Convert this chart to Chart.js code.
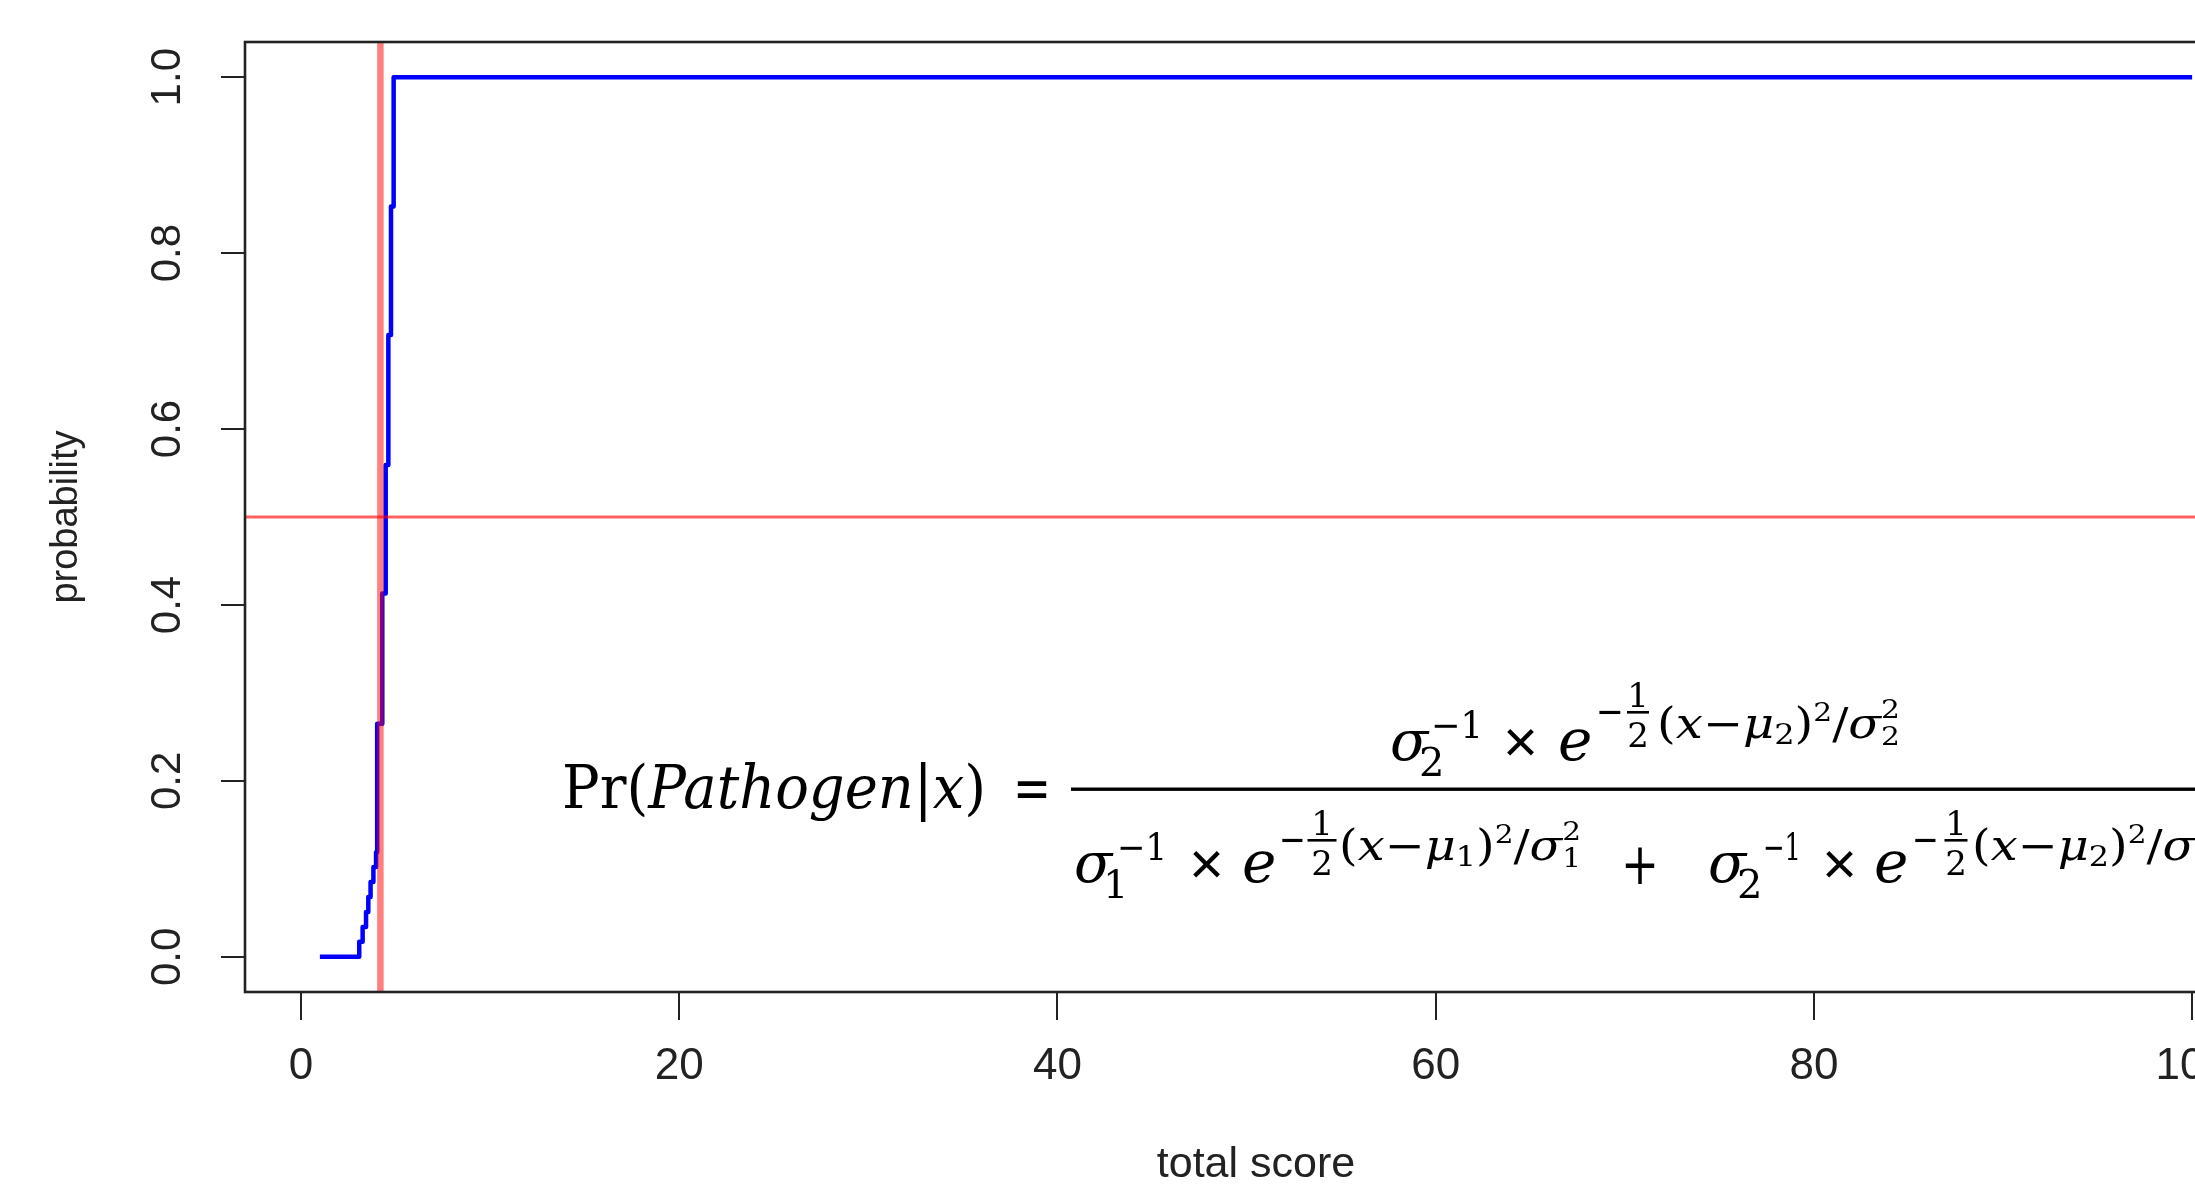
<!DOCTYPE html>
<html>
<head>
<meta charset="utf-8">
<script src="https://cdn.jsdelivr.net/npm/chart.js@4.4.0/dist/chart.umd.min.js"></script>
<style>
  html, body { margin: 0; padding: 0; background: #fff; overflow: hidden; }
  #frame { position: relative; width: 2195px; height: 1187px; overflow: hidden; }
  #wrap { position: absolute; left: 0; top: 0; width: 2300px; height: 1187px; }
</style>
</head>
<body>
<div id="frame"><div id="wrap"><canvas id="probChart"></canvas></div></div>
<script>
// data
const scoreX = [1, 3.08, 3.26, 3.44, 3.56, 3.68, 3.83, 3.97, 4.03, 4.3, 4.48, 4.62, 4.76, 4.9, 100];
const probY  = [0, 0.017, 0.034, 0.051, 0.068, 0.085, 0.102, 0.119, 0.265, 0.413, 0.559, 0.707, 0.853, 1.0, 1.0];
const xTicks = [0, 20, 40, 60, 80, 100];
const yTicks = [0, 0.2, 0.4, 0.6, 0.8, 1.0];
const yTickLabels = ['0.0', '0.2', '0.4', '0.6', '0.8', '1.0'];
const cutoffScore = 4.2;
const cutoffProb = 0.5;
const xRange = [-2.96, 103.96];
const yRange = [-0.04, 1.04];

const SANS = '"Liberation Sans", Arial, sans-serif';
const SERIF = '"DejaVu Serif", "Liberation Serif", serif';

// ---- formula helpers (drawn as canvas text) ----
function fnt(size, it, fam) { return (it ? 'italic ' : '') + size + 'px ' + (fam || SERIF); }
function measure(ctx, r) {
  if (r.stack) return Math.max(...r.stack.map(q => measure(ctx, q)));
  ctx.font = fnt(r[1], r[2], r[4]);
  return ctx.measureText(r[0]).width;
}
function paint(ctx, r, x) {
  if (r.stack) { r.stack.forEach(q => paint(ctx, q, x)); return; }
  ctx.font = fnt(r[1], r[2], r[4]);
  ctx.fillText(r[0], x, r[3] || 0);
}
function drawGroup(ctx, runs, x0, base, target) {
  const ws = runs.map(r => measure(ctx, r));
  const total = ws.reduce((a, b) => a + b, 0);
  const sx = target ? target / total : 1;
  ctx.save();
  ctx.translate(x0, base);
  ctx.scale(sx, 1);
  let x = 0;
  runs.forEach((r, i) => { paint(ctx, r, x); x += ws[i]; });
  ctx.restore();
}
function drawHalf(ctx, cx, barY, barW) {
  ctx.save();
  ctx.textAlign = 'center';
  ctx.font = fnt(34, false);
  ctx.fillText('1', cx, barY - 5);
  ctx.fillText('2', cx, barY + 35);
  ctx.fillRect(cx - barW / 2, barY - 1, barW, 2.6);
  ctx.restore();
}
function expRuns(k) {
  return [['(', 42], ['x', 42, true], ['\u2212', 42], ['\u03bc', 42, true], [k, 28, false, 6], [')', 42],
          ['2', 26, false, -17], ['/', 42], ['\u03c3', 42, true],
          { stack: [['2', 26, false, -20], [k, 26, false, 7]] }];
}
function sigmaTerm(ctx, x, base, k, supX, supW) {
  drawGroup(ctx, [['\u03c3', 56, true]], x, base);
  drawGroup(ctx, [[k, 40]], x + 29, base + 16);
  drawGroup(ctx, [['\u22121', 38]], supX, base - 22, supW);
}
function times(ctx, x, base) {
  drawGroup(ctx, [['\u00d7', 60, false, 0, SANS]], x, base + 2);
}

const formulaPlugin = {
  id: 'formula',
  afterDraw(chart) {
    const ctx = chart.ctx;
    ctx.save();
    ctx.fillStyle = '#000';
    ctx.textAlign = 'left';
    ctx.textBaseline = 'alphabetic';
    // left hand side
    drawGroup(ctx, [['Pr', 60], ['(', 60], ['Pathogen', 60, true], ['|', 60], ['x', 60, true], [')', 60]], 562, 808, 424);
    drawGroup(ctx, [['=', 60]], 1013, 808, 38);
    // main fraction bar
    ctx.fillRect(1071, 787.5, 1300, 3.4);
    // numerator
    sigmaTerm(ctx, 1390, 760, '2', 1431, 52);
    times(ctx, 1503, 760);
    drawGroup(ctx, [['e', 58, true]], 1558, 760);
    drawGroup(ctx, [['\u2212', 40]], 1596, 725, 28);
    drawHalf(ctx, 1638, 712, 22);
    drawGroup(ctx, expRuns('2'), 1657, 738, 243);
    // denominator
    sigmaTerm(ctx, 1074, 882, '1', 1117, 50);
    times(ctx, 1189, 882);
    drawGroup(ctx, [['e', 58, true]], 1242, 882);
    drawGroup(ctx, [['\u2212', 40]], 1279, 853, 27);
    drawHalf(ctx, 1322, 840, 29);
    drawGroup(ctx, expRuns('1'), 1339, 860, 242);
    drawGroup(ctx, [['+', 58]], 1621, 884, 38);
    sigmaTerm(ctx, 1708, 882, '2', 1763, 38);
    times(ctx, 1822, 882);
    drawGroup(ctx, [['e', 58, true]], 1874, 882);
    drawGroup(ctx, [['\u2212', 40]], 1912, 853, 27);
    drawHalf(ctx, 1956, 840, 23);
    drawGroup(ctx, expRuns('2'), 1972, 860, 242);
    ctx.restore();
  }
};

// box round the plot area and rotated y tick labels (R style)
const frameAxesPlugin = {
  id: 'frameAxes',
  afterDraw(chart) {
    const { ctx, chartArea: a, scales } = chart;
    ctx.save();
    ctx.strokeStyle = '#222';
    ctx.lineWidth = 2.6;
    ctx.strokeRect(a.left, a.top, a.right - a.left, a.bottom - a.top);
    ctx.fillStyle = '#222';
    ctx.font = '42px ' + SANS;
    ctx.textAlign = 'center';
    ctx.textBaseline = 'middle';
    yTicks.forEach((v, i) => {
      const py = scales.y.getPixelForValue(v);
      ctx.save();
      ctx.translate(a.left - 77, py);
      ctx.rotate(-Math.PI / 2);
      ctx.fillText(yTickLabels[i], 0, 0);
      ctx.restore();
    });
    ctx.restore();
  }
};

new Chart(document.getElementById('probChart'), {
  type: 'scatter',
  data: {
    datasets: [
      {
        label: 'cutoff score',
        data: [{ x: cutoffScore, y: yRange[0] }, { x: cutoffScore, y: yRange[1] }],
        showLine: true, borderColor: 'rgba(255,0,0,0.5)', borderWidth: 6.5,
        pointRadius: 0, order: 0
      },
      {
        label: 'cutoff probability',
        data: [{ x: xRange[0], y: cutoffProb }, { x: xRange[1], y: cutoffProb }],
        showLine: true, borderColor: 'rgba(255,0,0,0.62)', borderWidth: 3,
        pointRadius: 0, order: 0
      },
      {
        label: 'probability',
        data: scoreX.map((x, i) => ({ x: x, y: probY[i] })),
        showLine: true, stepped: true, borderColor: '#0000ff', borderWidth: 4.5,
        borderJoinStyle: 'round', borderCapStyle: 'butt',
        pointRadius: 0, order: 1
      }
    ]
  },
  options: {
    responsive: true,
    maintainAspectRatio: false,
    animation: false,
    layout: { padding: { left: 0, top: 42, right: 33, bottom: 0 } },
    plugins: { legend: { display: false }, tooltip: { enabled: false } },
    scales: {
      x: {
        type: 'linear', min: xRange[0], max: xRange[1],
        afterBuildTicks: s => { s.ticks = xTicks.map(v => ({ value: v })); },
        afterFit: s => { s.height = 195; },
        border: { display: false },
        grid: { drawOnChartArea: false, drawTicks: true, tickLength: 28, color: '#222', lineWidth: 2 },
        ticks: { color: '#222', font: { family: SANS, size: 44 }, padding: 20, maxRotation: 0, autoSkip: false },
        title: { display: true, text: 'total score', color: '#222',
                 font: { family: SANS, size: 43, lineHeight: 1 }, padding: { top: 0, bottom: 0 } }
      },
      y: {
        type: 'linear', min: yRange[0], max: yRange[1],
        afterBuildTicks: s => { s.ticks = yTicks.map(v => ({ value: v })); },
        afterFit: s => { s.width = 245; },
        border: { display: false },
        grid: { drawOnChartArea: false, drawTicks: true, tickLength: 24, color: '#222', lineWidth: 2 },
        ticks: { display: false },
        title: { display: true, text: 'probability', color: '#222',
                 font: { family: SANS, size: 38, lineHeight: 1 }, padding: { top: 48, bottom: 0 } }
      }
    }
  },
  plugins: [frameAxesPlugin, formulaPlugin]
});
</script>
</body>
</html>
